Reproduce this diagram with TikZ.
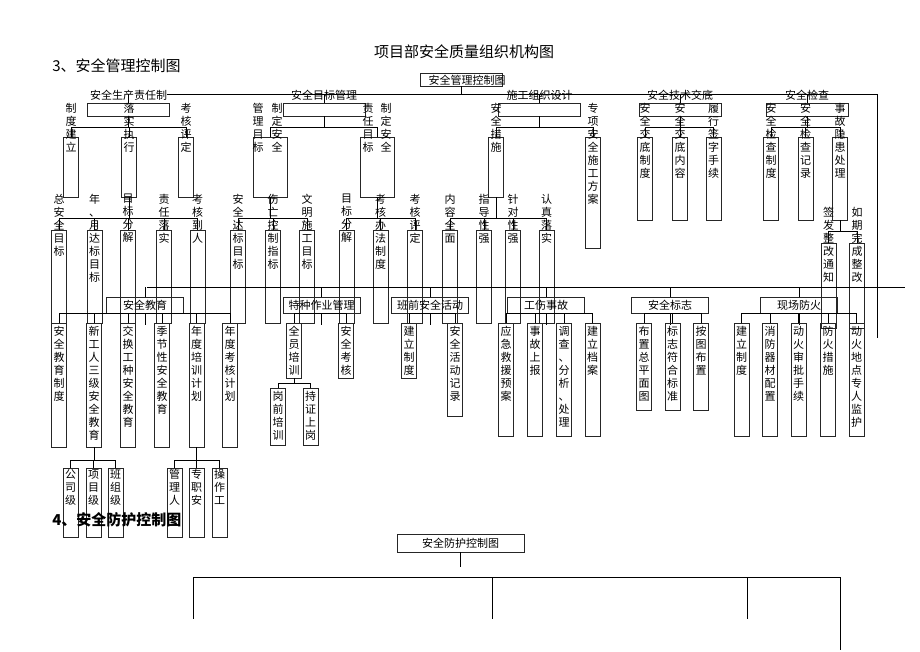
\documentclass[tikz,border=0pt]{standalone}
\usepackage{fontspec}
\setmainfont{Noto Sans CJK SC}
\tikzset{
  colbox/.style={draw=black!85, minimum width=15pt, inner sep=0pt},
  coltext/.style={anchor=north, inner sep=0pt, align=center, font=\fontsize{11}{13}\selectfont},
  widebox/.style={draw=black!85, minimum width=82pt, minimum height=13pt, inner sep=0pt},
  catbox/.style={draw=black!85, minimum width=77pt, minimum height=16pt, inner sep=0pt, font=\fontsize{11}{13}\selectfont},
  cattext/.style={inner sep=0pt, font=\fontsize{11}{13}\selectfont},
  headtext/.style={anchor=west, inner sep=0pt, font=\fontsize{15}{15}\selectfont}
}
% column box: name, x, top, bottom, text top, stacked text
\newcommand{\colbox}[6]{%
  \node[colbox, minimum height=#4-#3] (#1) at (#2,{(#3+#4)/2}) {};
  \node[coltext] (#1-t) at (#2,#5) {#6};
}
% parent, bar y, children
\newcommand{\branch}[3]{%
  \foreach \kid in {#3} \draw (#1.south) -- (#1.south |- 0,#2) -| (\kid.north);
}

\begin{document}
\begin{tikzpicture}[x=1pt, y=-1pt, line width=0.7pt]
\useasboundingbox (0,0) rectangle (920,651);
% titles
\node[inner sep=0pt, font=\fontsize{15}{15}\selectfont] (title) at (464,52) {项目部安全质量组织机构图};
\node[headtext] (sec3) at (52,66) {3、安全管理控制图};
% root
\node[widebox] (root) at (461,79.5) {};
\node[cattext] (root-t) at (467,80) {安全管理控制图};
\coordinate (topL) at (167,94);
\coordinate (topR) at (877,94);
\coordinate (rEnd) at (877,338);
\draw (topL) -- (topR) -- (rEnd);
\draw (root.south) -- (root.south |- topL);
% first level
\foreach \nm/\x/\txt in {g1/128.5/安全生产责任制, g2/324/安全目标管理, g3/539.5/施工组织设计, g4/680/安全技术交底, g5/807/安全检查} {
  \node[widebox] (\nm) at (\x,109.5) {};
  \draw (\nm.north) -- (\nm.north |- topL);
  \node[cattext] (\nm-t) at (\x,95) {\txt};
}
% responsibility
\colbox{b11}{71}{137}{197}{103}{制\\度\\建\\立}
\colbox{b12}{129}{137}{197}{103}{落\\实\\执\\行}
\colbox{b13}{186}{137}{197}{103}{考\\核\\评\\定}
\branch{g1}{127}{b11,b12,b13}
% targets
\node[colbox, minimum width=34pt, minimum height=60pt] (b21) at (270,167) {};
\node[coltext] (b21-t1) at (258,103) {管\\理\\目\\标};
\node[coltext] (b21-t2) at (277,103) {制\\定\\安\\全};
\node[colbox, minimum width=34pt, minimum height=60pt] (b22) at (377,167) {};
\node[coltext] (b22-t1) at (368,103) {责\\任\\目\\标};
\node[coltext] (b22-t2) at (386,103) {制\\定\\安\\全};
\branch{g2}{127}{b21,b22}
% construction design
\colbox{b31}{496}{137}{197}{103}{安\\全\\措\\施}
\colbox{b32}{593}{137}{248}{103}{专\\项\\安\\全\\施\\工\\方\\案}
\branch{g3}{127}{b31,b32}
% disclosure
\colbox{b41}{645}{137}{220}{103}{安\\全\\交\\底\\制\\度}
\colbox{b42}{680}{137}{220}{103}{安\\全\\交\\底\\内\\容}
\colbox{b43}{713.5}{137}{220}{103}{履\\行\\签\\字\\手\\续}
\branch{g4}{127}{b41,b42,b43}
% inspection
\colbox{b51}{771}{137}{220}{103}{安\\全\\检\\查\\制\\度}
\colbox{b52}{805.5}{137}{220}{103}{安\\全\\检\\查\\记\\录}
\colbox{b53}{840}{137}{220}{103}{事\\故\\隐\\患\\处\\理}
\branch{g5}{127}{b51,b52,b53}
\colbox{b61}{828.5}{243}{328}{207}{签\\发\\整\\改\\通\\知}
\colbox{b62}{857}{243}{328}{207}{如\\期\\完\\成\\整\\改}
\branch{b53}{231}{b61,b62}
% second level
\colbox{a1}{59}{230}{323}{194}{总\\安\\全\\目\\标}
\colbox{a2}{94.5}{230}{323}{194}{年\\、\\月\\达\\标\\目\\标}
\colbox{a3}{128}{230}{323}{194}{目\\标\\分\\解}
\colbox{a4}{164}{230}{323}{194}{责\\任\\落\\实}
\colbox{a5}{197.5}{230}{323}{194}{考\\核\\到\\人}
\branch{b12}{218}{a1,a2,a3,a4,a5}
\colbox{a6}{238}{230}{323}{194}{安\\全\\达\\标\\目\\标}
\colbox{a7}{273}{230}{323}{194}{伤\\亡\\控\\制\\指\\标}
\colbox{a8}{307}{230}{323}{194}{文\\明\\施\\工\\目\\标}
\branch{b21}{218}{a6,a7,a8}
\colbox{a9}{346.5}{230}{323}{194}{目\\标\\分\\解}
\colbox{a10}{380.5}{230}{323}{194}{考\\核\\办\\法\\制\\度}
\colbox{a11}{415}{230}{323}{194}{考\\核\\评\\定}
\branch{b22}{218}{a9,a10,a11}
\colbox{a12}{450}{230}{323}{194}{内\\容\\全\\面}
\colbox{a13}{484}{230}{323}{194}{指\\导\\性\\强}
\colbox{a14}{513}{230}{323}{194}{针\\对\\性\\强}
\colbox{a15}{546.5}{230}{323}{194}{认\\真\\落\\实}
\branch{b31}{218}{a12,a13,a14,a15}
% middle line
\coordinate (midL) at (147,287);
\coordinate (midR) at (905,287);
\draw (midL) -- (midR);
\foreach \nm/\x/\txt in {s1/145/安全教育, s2/321.5/特种作业管理, s3/430/班前安全活动, s4/546/工伤事故, s5/670/安全标志, s6/799/现场防火} {
  \node[catbox] (\nm) at (\x,305) {\txt};
  \draw (\nm.north) -- (\nm.north |- midL);
  \draw (\nm.south) -- ++(0,12);
}
% education
\colbox{d1}{59}{323}{447}{326}{安\\全\\教\\育\\制\\度}
\colbox{d2}{94}{323}{447}{326}{新\\工\\人\\三\\级\\安\\全\\教\\育}
\colbox{d3}{128}{323}{447}{326}{交\\换\\工\\种\\安\\全\\教\\育}
\colbox{d4}{162}{323}{447}{326}{季\\节\\性\\安\\全\\教\\育}
\colbox{d5}{196.5}{323}{447}{326}{年\\度\\培\\训\\计\\划}
\colbox{d6}{230}{323}{447}{326}{年\\度\\考\\核\\计\\划}
\branch{s1}{313}{d1,d2,d3,d4,d5,d6}
\colbox{e3}{70.5}{468}{537}{469}{公\\司\\级}
\colbox{e4}{93.5}{468}{537}{469}{项\\目\\级}
\colbox{e5}{115.5}{468}{537}{469}{班\\组\\级}
\branch{d2}{460}{e3,e4,e5}
\colbox{e6}{174.5}{468}{537}{469}{管\\理\\人}
\colbox{e7}{196.5}{468}{537}{469}{专\\职\\安}
\colbox{e8}{219.5}{468}{537}{469}{操\\作\\工}
\branch{d5}{460}{e6,e7,e8}
% special work
\colbox{d7}{294}{323}{378}{326}{全\\员\\培\\训}
\colbox{d8}{346}{323}{378}{326}{安\\全\\考\\核}
\branch{s2}{313}{d7,d8}
\colbox{e1}{278}{388}{445}{391}{岗\\前\\培\\训}
\colbox{e2}{310.5}{388}{445}{391}{持\\证\\上\\岗}
\branch{d7}{383}{e1,e2}
% pre-shift
\colbox{d9}{409}{323}{378}{326}{建\\立\\制\\度}
\colbox{d10}{455}{323}{416}{326}{安\\全\\活\\动\\记\\录}
\branch{s3}{313}{d9,d10}
% injuries
\colbox{d11}{506}{323}{436}{326}{应\\急\\救\\援\\预\\案}
\colbox{d12}{535}{323}{436}{326}{事\\故\\上\\报}
\colbox{d13}{564}{323}{436}{326}{调\\查\\、\\分\\析\\、\\处\\理}
\colbox{d14}{592.5}{323}{436}{326}{建\\立\\档\\案}
\branch{s4}{313}{d11,d12,d13,d14}
% signs
\colbox{d15}{644}{323}{410}{326}{布\\置\\总\\平\\面\\图}
\colbox{d16}{672.5}{323}{410}{326}{标\\志\\符\\合\\标\\准}
\colbox{d17}{701}{323}{410}{326}{按\\图\\布\\置}
\branch{s5}{313}{d15,d16,d17}
% fire
\colbox{d18}{741.5}{323}{436}{326}{建\\立\\制\\度}
\colbox{d19}{770}{323}{436}{326}{消\\防\\器\\材\\配\\置}
\colbox{d20}{798.5}{323}{436}{326}{动\\火\\审\\批\\手\\续}
\colbox{d21}{828}{323}{436}{326}{防\\火\\措\\施}
\colbox{d22}{856.5}{323}{436}{326}{动\\火\\地\\点\\专\\人\\监\\护}
\branch{s6}{313}{d18,d19,d20,d21,d22}
% protection chart
\node[headtext, font=\bfseries\fontsize{15}{15}\selectfont] (sec4) at (52,520) {4、安全防护控制图};
\node[draw=black!85, minimum width=127pt, minimum height=18pt, inner sep=0pt, font=\fontsize{11}{13}\selectfont] (prot) at (460.5,543) {安全防护控制图};
\draw (prot.south) -- ++(0,15) coordinate (protEnd);
\coordinate (botL) at (193,577);
\coordinate (botR) at (840,577);
\draw (botL) -- (botR);
\foreach \x in {193,492,747} \draw (\x,577) -- (\x,619);
\draw (botR) -- (840,650);
\end{tikzpicture}
\end{document}
